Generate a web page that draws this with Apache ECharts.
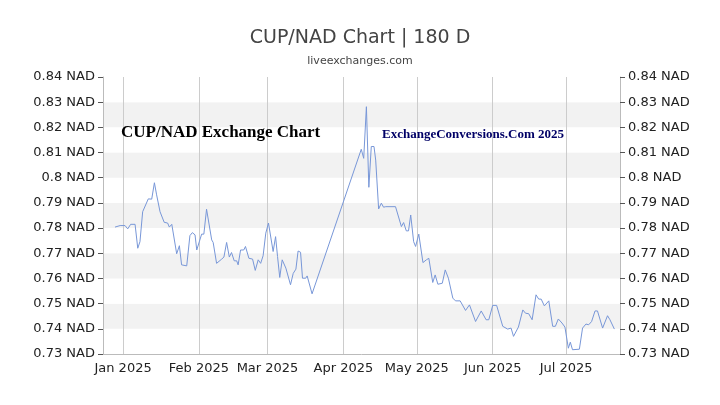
<!DOCTYPE html>
<html>
<head>
<meta charset="utf-8">
<script src="https://cdn.jsdelivr.net/npm/echarts@6/dist/echarts.min.js"></script>
<style>html,body{margin:0;padding:0;background:#fff}#chart{width:720px;height:405px}</style>
</head>
<body>
<div id="chart"></div>
<script>
// days after 2025-01-01
var days = [-3.3,-1.2,0.8,1.9,3.1,4.9,6.0,6.9,8.0,10.3,11.7,12.8,13.7,15.1,16.8,18.2,18.9,19.9,21.9,23.0,23.9,26.0,27.3,28.3,29.4,30.1,32.1,33.0,34.1,36.2,36.8,38.2,40.3,41.2,42.3,43.4,44.3,45.4,46.4,47.0,48.0,49.3,50.0,51.4,52.9,54.0,55.2,56.2,57.2,58.3,59.4,60.2,61.3,62.3,63.1,64.0,65.0,66.5,68.4,69.5,70.6,71.5,72.5,73.3,74.6,75.2,77.2,97.3,98.3,99.4,100.4,101.4,102.5,103.2,104.4,105.5,106.4,107.3,111.3,113.7,114.6,115.7,116.6,117.5,118.7,119.5,120.8,122.5,123.9,124.9,126.5,127.5,128.6,130.4,131.6,132.9,134.7,135.8,137.7,139.9,141.5,144.0,144.7,146.3,148.3,149.4,151.0,152.6,155.1,157.1,158.5,159.5,161.5,163.3,164.4,165.7,167.1,167.7,168.7,169.8,170.8,172.1,173.9,175.5,176.6,177.8,179.3,180.5,181.9,182.7,183.6,186.4,187.7,189.1,190.2,191.4,192.8,193.8,195.9,197.9,198.9,200.7];
var rates = [0.7804,0.781,0.781,0.7797,0.7815,0.7815,0.772,0.7746,0.7865,0.7916,0.7915,0.798,0.7932,0.7865,0.7823,0.782,0.7804,0.7815,0.7698,0.773,0.7654,0.765,0.777,0.7782,0.7773,0.7713,0.7776,0.7776,0.7875,0.7753,0.7743,0.766,0.7677,0.7685,0.7743,0.7685,0.7703,0.767,0.767,0.7654,0.7713,0.7713,0.7727,0.768,0.7677,0.7632,0.7674,0.766,0.769,0.778,0.782,0.782,0.7707,0.7766,0.7687,0.7604,0.7674,0.7641,0.7575,0.762,0.7637,0.7709,0.7704,0.7601,0.7601,0.761,0.7539,0.8113,0.8077,0.8282,0.7962,0.8124,0.8124,0.807,0.7876,0.7899,0.7883,0.7885,0.7885,0.7806,0.7822,0.7789,0.7789,0.7852,0.7746,0.7727,0.7776,0.7663,0.7674,0.768,0.7584,0.7614,0.7577,0.7581,0.7634,0.7601,0.7522,0.7511,0.7511,0.7473,0.7495,0.7429,0.7429,0.7471,0.7436,0.7436,0.7493,0.7493,0.741,0.7399,0.7403,0.737,0.7407,0.7475,0.7462,0.746,0.7436,0.7433,0.7535,0.7518,0.7518,0.7491,0.7511,0.741,0.741,0.7439,0.7423,0.7407,0.7323,0.7347,0.7317,0.7319,0.7403,0.7419,0.7416,0.7429,0.7471,0.7471,0.7403,0.7452,0.7436,0.7399];
var months = ['Jan','Feb','Mar','Apr','May','Jun','Jul','Aug','Sep','Oct','Nov','Dec'];

var start = Date.UTC(2025, 0, 1);
var dayMs = 86400000;
var points = [];
for (var i = 0; i < days.length; i++) {
    points.push([start + days[i] * dayMs, rates[i]]);
}

var myChart = echarts.init(document.getElementById('chart'));
var yAxisBase = {
    type: 'value',
    min: 0.73,
    max: 0.84,
    interval: 0.01,
    axisLine: {show: true, lineStyle: {color: '#bbb'}},
    axisTick: {show: true, lineStyle: {color: '#555'}},
    axisLabel: {
        color: '#222',
        fontSize: 13,
        fontFamily: 'DejaVu Sans',
        formatter: function (v) { return (+v.toFixed(2)) + ' NAD'; }
    }
};
var option = {
    title: {
        text: 'CUP/NAD Chart | 180 D',
        subtext: 'liveexchanges.com',
        left: 'center',
        top: 24,
        itemGap: 8,
        textStyle: {color: '#444', fontSize: 19, fontWeight: 'normal', fontFamily: 'DejaVu Sans'},
        subtextStyle: {color: '#444', fontSize: 11, fontFamily: 'DejaVu Sans'}
    },
    grid: {left: 103, right: 100, top: 77, bottom: 51},
    xAxis: {
        type: 'time',
        min: start - 8.2 * dayMs,
        max: start + 203 * dayMs,
        axisLine: {show: true, lineStyle: {color: '#bbb'}},
        axisTick: {show: false},
        splitLine: {show: true, lineStyle: {color: '#ccc'}},
        axisLabel: {
            color: '#222',
            fontSize: 13,
            fontFamily: 'DejaVu Sans',
            formatter: function (v) {
                var d = new Date(v);
                if (d.getUTCDate() !== 1) return '';
                return months[d.getUTCMonth()] + ' ' + d.getUTCFullYear();
            }
        }
    },
    yAxis: [
        echarts.util.merge({
            position: 'left',
            splitLine: {show: false},
            splitArea: {show: true, areaStyle: {color: ['#ffffff', '#f2f2f2']}}
        }, yAxisBase, true),
        echarts.util.merge({position: 'right', splitLine: {show: false}}, yAxisBase, true)
    ],
    graphic: [
        {type: 'text', left: 121, top: 124, z: 100, style: {text: 'CUP/NAD Exchange Chart', fill: '#000', fontSize: 17, fontWeight: 'bold', fontFamily: 'Liberation Sans Narrow'}},
        {type: 'text', left: 382, top: 128, z: 100, style: {text: 'ExchangeConversions.Com 2025', fill: '#000066', fontSize: 13, fontWeight: 'bold', fontFamily: 'Liberation Sans Narrow'}}
    ],
    series: [{
        type: 'line',
        data: points,
        showSymbol: false,
        lineStyle: {color: '#7897d8', width: 1},
        animation: false
    }]
};
myChart.setOption(option);
</script>
</body>
</html>
